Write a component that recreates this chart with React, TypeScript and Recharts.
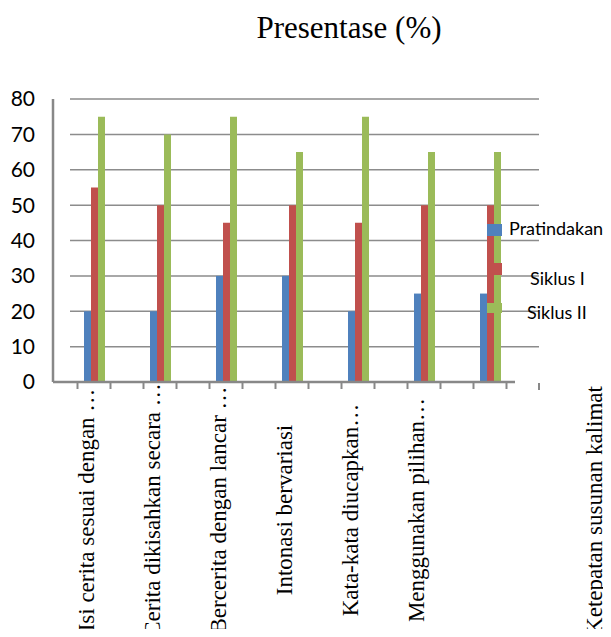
import React from 'react';
import { BarChart, Bar, XAxis, YAxis, CartesianGrid, Legend } from 'recharts';

const categories = [
  'Isi cerita sesuai dengan …',
  'Cerita dikisahkan secara …',
  'Bercerita dengan lancar …',
  'Intonasi bervariasi',
  'Kata-kata diucapkan…',
  'Menggunakan pilihan…',
  'Ketepatan susunan kalimat',
];
const pratindakan = [20, 20, 30, 30, 20, 25, 25];
const siklusI = [55, 50, 45, 50, 45, 50, 50];
const siklusII = [75, 70, 75, 65, 75, 65, 65];
const yTicks = [0, 10, 20, 30, 40, 50, 60, 70, 80];
const gridValues = [10, 20, 30, 40, 50, 60, 70, 80];
const seriesNames = ['Pratindakan', 'Siklus I', 'Siklus II'];
const seriesColors = ['#4F81BD', '#C0504D', '#9BBB59'];
const title = 'Presentase (%)';

const data = categories.map((name, i) => ({
  name,
  p: pratindakan[i],
  s1: siklusI[i],
  s2: siklusII[i],
}));

const SERIF = "'Liberation Serif', 'Times New Roman', Times, serif";
const SANS = "Lato, 'Liberation Sans', Arial, sans-serif";
const AXIS = '#888888';

const XTick = (props: any) => {
  const { x, y, payload, index } = props;
  const last = index === categories.length - 1;
  const q = 16.5;
  const lx = last ? x + 112 : x;
  return (
    <g>
      <line x1={x - q} x2={x - q} y1={y} y2={y + 7} stroke={AXIS} strokeWidth={2} />
      <line x1={x + q} x2={x + q} y1={y} y2={y + 7} stroke={AXIS} strokeWidth={2} />
      {last && <line x1={x + 49} x2={x + 49} y1={y + 1} y2={y + 8} stroke={AXIS} strokeWidth={2} />}
      <text
        x={0}
        y={0}
        transform={`translate(${lx},${y + 128}) rotate(-90)`}
        textAnchor="middle"
        fontFamily={SERIF}
        fontSize={23}
        fill="#000"
      >
        {payload.value}
      </text>
    </g>
  );
};

const legendPos = [
  { mx: 479, my: 216, mh: 12, tx: 501, ty: 220 },
  { mx: 479, my: 255, mh: 12, tx: 522, ty: 270 },
  { mx: 479, my: 295, mh: 10, tx: 519, ty: 304 },
];

const LegendBox = (props: any) => {
  const payload = props.payload || [];
  return (
    <div style={{ position: 'relative', width: 0, height: 0 }}>
      {payload.map((item: any, i: number) => {
        const pos = legendPos[i] || legendPos[0];
        return (
          <React.Fragment key={i}>
            <div
              style={{
                position: 'absolute',
                left: pos.mx,
                top: pos.my,
                width: 15,
                height: pos.mh,
                background: item.color,
              }}
            />
            <div
              style={{
                position: 'absolute',
                left: pos.tx,
                top: pos.ty - 11,
                lineHeight: '22px',
                fontSize: 18,
                fontFamily: SANS,
                color: '#000',
                whiteSpace: 'nowrap',
              }}
            >
              {item.value}
            </div>
          </React.Fragment>
        );
      })}
    </div>
  );
};

export default function App() {
  return (
    <div style={{ width: 603, height: 629, position: 'relative', marginBottom: -8 }}>
      <BarChart
        width={603}
        height={629}
        data={data}
        margin={{ top: 91, right: 72, bottom: 0, left: 0 }}
        barGap={0}
      >
        <text x={341} y={30} textAnchor="middle" fontFamily={SERIF} fontSize={31} fill="#000">
          {title}
        </text>
        <CartesianGrid
          vertical={false}
          horizontalValues={gridValues}
          stroke="#8c8c8c"
          strokeWidth={1.5}
          strokeDasharray="0 17 2000"
        />
        <XAxis
          dataKey="name"
          interval={0}
          height={255}
          padding={{ left: 8, right: 16 }}
          tickSize={0}
          tickMargin={0}
          tickLine={false}
          axisLine={{ stroke: AXIS, strokeWidth: 2.5, strokeDasharray: '462 2000' }}
          tick={<XTick />}
        />
        <YAxis
          domain={[0, 80]}
          ticks={yTicks}
          interval={0}
          width={45}
          tickLine={false}
          tickMargin={12}
          axisLine={{ stroke: AXIS, strokeWidth: 2.5 }}
          tick={{ fontFamily: SANS, fontSize: 21, fill: '#000' }}
        />
        <Legend
          layout="vertical"
          align="center"
          verticalAlign="middle"
          wrapperStyle={{ position: 'absolute', left: 0, top: 0, width: 0, height: 0 }}
          content={(p: any) => <LegendBox payload={p.payload} />}
        />
        <Bar dataKey="p" name={seriesNames[0]} fill={seriesColors[0]} barSize={7} isAnimationActive={false} />
        <Bar dataKey="s1" name={seriesNames[1]} fill={seriesColors[1]} barSize={7} isAnimationActive={false} />
        <Bar dataKey="s2" name={seriesNames[2]} fill={seriesColors[2]} barSize={7} isAnimationActive={false} />
      </BarChart>
    </div>
  );
}
